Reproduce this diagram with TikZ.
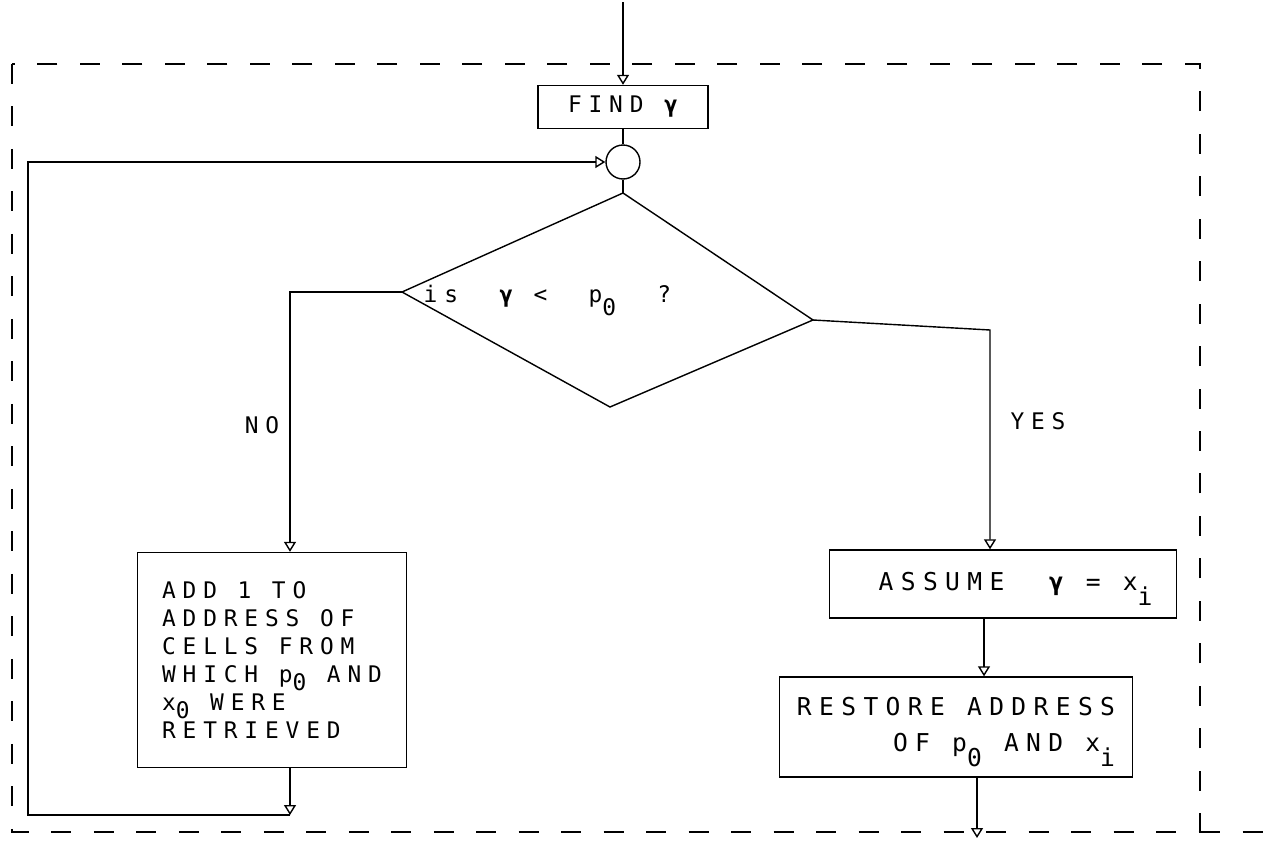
\documentclass[tikz,border=0pt]{standalone}
\usepackage{fontspec}
\usetikzlibrary{arrows.meta,positioning}
\newfontfamily\plotfont{DejaVu Sans Mono}[LetterSpace=30]
\newcommand{\lowsub}[2][0.6em]{\smash{\raisebox{-#1}{#2}}}
\newcommand{\gam}{{\bfseries γ}}

\begin{document}
\begin{tikzpicture}[
  x=0.02cm, y=-0.02cm,
  line width=0.8pt,
  >={Triangle[open,length=2mm,width=2.4mm]},
  procbox/.style={draw, rectangle, inner sep=0pt,
                  font=\plotfont\fontsize{14}{20.4}\selectfont},
  lbl/.style={inner sep=0pt, font=\plotfont\fontsize{13}{15}\selectfont},
  frame/.style={dash pattern=on 0.4cm off 0.45cm, line width=0.7pt}
]
\useasboundingbox (0,0) rectangle (1283,845);

% outer dashed frame
\draw[frame] (12,64) rectangle (1200,832);
\draw[frame] (1200,832) -- (1283,832);

\coordinate (entry) at (623,2);
\node[procbox, minimum width=3.4cm, minimum height=0.86cm,
      font=\plotfont\fontsize{13}{15}\selectfont] (find) at (623,107) {FIND \gam};
\node[draw, circle, minimum size=0.68cm, inner sep=0pt] (join) at (623,162) {};

% decision
\coordinate (dtop) at (623,193);
\coordinate (dleft) at (402,292);
\coordinate (dright) at (813,320);
\coordinate (dbot) at (610,407);
\draw (dtop) -- (dright) -- (dbot) -- (dleft) -- cycle;
\node[lbl, anchor=base west] (test) at (423,302) {is~~\gam~<~~p\lowsub{0}~~?};

\node[procbox, minimum width=5.38cm, minimum height=4.3cm, align=left,
      font=\plotfont\fontsize{13}{16}\selectfont] (add) at (272,660)
  {ADD 1 TO\\ADDRESS OF\\CELLS FROM\\WHICH p\lowsub[0.35em]{0} AND\\x\lowsub[0.35em]{0} WERE\\RETRIEVED};
\node[procbox, minimum width=6.94cm, minimum height=1.36cm] (assume) at (1003,584)
  {\hspace*{0.5cm}ASSUME~~\gam~=~x\lowsub{i}};
\node[procbox, minimum width=7.06cm, minimum height=2cm, align=right] (restore) at (956,727)
  {RESTORE ADDRESS\\OF p\lowsub{0} AND x\lowsub{i}};

\node[lbl] (no) at (262,425) {NO};
\node[lbl] (yes) at (1038,421) {YES};

\coordinate (noturn) at (290,292);
\coordinate (yesturn) at (990,330);
\coordinate (junc) at (290,815);
\coordinate (loopcorner) at (28,815);
\coordinate (exit) at (977,838);

\draw[->] (entry) -- (find);
\draw (find) -- (join);
\draw (join) -- (dtop);
\draw[->] (dleft) -- (noturn) -- (noturn |- add.north);
\draw[->] (dright) -- (yesturn) -- (yesturn |- assume.north);
\draw[->] ([xshift=-0.38cm]assume.south) -- ([xshift=-0.38cm]assume.south |- restore.north);
\draw[->] (exit |- restore.south) -- (exit);
\draw[->] (junc |- add.south) -- (junc);
\draw[->] (junc) -- (loopcorner) |- (join.west);
\end{tikzpicture}
\end{document}
